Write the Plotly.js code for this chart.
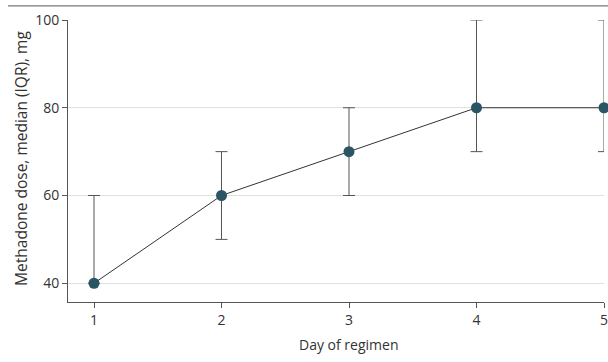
<!DOCTYPE html>
<html>
<head>
<meta charset="utf-8">
<script src="https://cdn.plot.ly/plotly-3.0.1.min.js"></script>
<style>html,body{margin:0;padding:0;background:#fff;}#chart{width:608px;height:362px;}</style>
</head>
<body>
<div id="chart"></div>
<script>
const days = [1, 2, 3, 4, 5];
const medianDose = [40, 60, 70, 80, 80];
const q1Dose = [40, 50, 60, 70, 70];
const q3Dose = [60, 70, 80, 100, 100];
const yTicks = [40, 60, 80, 100];
const xTicks = [1, 2, 3, 4, 5];
const xTitle = 'Day of regimen';
const yTitle = 'Methadone dose, median (IQR), mg';

const errPlus = q3Dose.map((v, i) => v - medianDose[i]);
const errMinus = medianDose.map((v, i) => v - q1Dose[i]);

const FONT = '"Open Sans", "Noto Sans", sans-serif';

const trace = {
  x: days,
  y: medianDose,
  type: 'scatter',
  mode: 'lines+markers',
  cliponaxis: false,
  line: {color: '#333333', width: 1},
  marker: {color: '#2b5565', size: 11},
  error_y: {
    type: 'data',
    symmetric: false,
    array: errPlus,
    arrayminus: errMinus,
    color: '#555555',
    thickness: 1,
    width: 6
  },
  hoverinfo: 'skip'
};

const layout = {
  width: 608,
  height: 362,
  margin: {l: 68, r: 4, t: 20, b: 60},
  paper_bgcolor: '#ffffff',
  plot_bgcolor: '#ffffff',
  showlegend: false,
  font: {family: FONT, size: 14, color: '#333333'},
  xaxis: {
    range: [0.796, 5],
    tickvals: xTicks,
    ticktext: xTicks.map(String),
    showgrid: false,
    zeroline: false,
    showline: true,
    linecolor: '#555555',
    linewidth: 1,
    ticks: 'outside',
    ticklen: 5,
    tickcolor: '#555555',
    ticklabeloverflow: 'allow',
    tickfont: {family: FONT, size: 14, color: '#333333'}
  },
  yaxis: {
    range: [35.73, 100],
    tickvals: yTicks,
    ticktext: yTicks.map(String),
    showgrid: true,
    gridcolor: '#e0e0e0',
    gridwidth: 1,
    zeroline: false,
    showline: true,
    linecolor: '#555555',
    linewidth: 1,
    ticks: 'outside',
    ticklen: 5,
    tickcolor: '#555555',
    ticklabeloverflow: 'allow',
    tickfont: {family: FONT, size: 14, color: '#333333'}
  },
  annotations: [
    {text: xTitle, xref: 'paper', yref: 'paper', x: 0.524, y: -0.149,
     xanchor: 'center', yanchor: 'middle', showarrow: false,
     font: {family: FONT, size: 14, color: '#333333'}},
    {text: yTitle, xref: 'paper', yref: 'paper', x: -0.0877, y: 0.511,
     xanchor: 'center', yanchor: 'middle', showarrow: false, textangle: -90,
     font: {family: FONT, size: 15.5, color: '#333333'}}
  ],
  shapes: [{
    type: 'line', xref: 'paper', yref: 'paper',
    x0: -0.112, x1: 1.01, y0: 1.05, y1: 1.05,
    line: {color: '#555555', width: 1}
  }]
};

Plotly.newPlot('chart', [trace], layout, {displayModeBar: false, staticPlot: true});
</script>
</body>
</html>
